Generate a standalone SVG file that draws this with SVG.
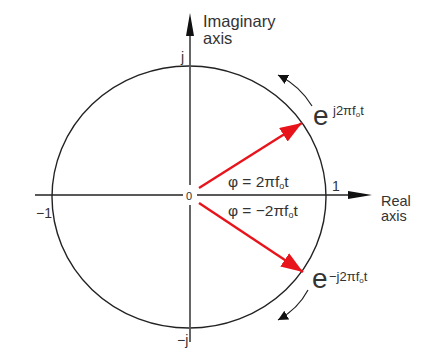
<svg xmlns="http://www.w3.org/2000/svg" width="437" height="354" viewBox="0 0 437 354">
<defs>
<style>
.t{font-family:"Liberation Sans",Arial,sans-serif;fill:#333}
.ax{stroke:#222;stroke-width:1.6;fill:none}
.red{stroke:#e8141b;stroke-width:2.4;fill:none}
.arc{stroke:#222;stroke-width:1.2;fill:none}
</style>
<marker id="rh" markerUnits="userSpaceOnUse" markerWidth="24" markerHeight="16" refX="22" refY="8" orient="auto">
<path d="M0,0 L22,8 L0,16 Z" fill="#e8141b"/>
</marker>
<marker id="bh" markerUnits="userSpaceOnUse" markerWidth="12" markerHeight="10" refX="10" refY="5" orient="auto">
<path d="M0,0 L10,5 L0,10 Z" fill="#111"/>
</marker>
</defs>
<rect width="437" height="354" fill="#fff"/>
<g id="circle">
<ellipse cx="189" cy="197" rx="137" ry="131" fill="none" stroke="#222" stroke-width="1.4"/>
</g>
<g id="connectors">
<line class="ax" x1="35" y1="195" x2="183" y2="195"/>
<line class="ax" x1="197" y1="195" x2="350" y2="195"/>
<polygon points="348,191 372,195 348,199" fill="#111"/>
<line x1="190" y1="33" x2="190" y2="185" stroke="#555" stroke-width="1.8"/>
<line x1="190" y1="205" x2="190" y2="342" stroke="#555" stroke-width="1.8"/>
<polygon points="186,36 190,13 194,36" fill="#111"/>
<line class="red" x1="199" y1="188" x2="302" y2="123" marker-end="url(#rh)"/>
<line class="red" x1="199" y1="203" x2="303" y2="272" marker-end="url(#rh)"/>
<path class="arc" d="M312,106 Q300,86 278,75" marker-end="url(#bh)"/>
<path class="arc" d="M308,290 Q298,309 278,320" marker-end="url(#bh)"/>
</g>
<g id="labels">
<text class="t" x="203" y="27" font-size="16.5">Imaginary</text>
<text class="t" x="203" y="44" font-size="16.5">axis</text>
<text class="t" x="381" y="206" font-size="14.5">Real</text>
<text class="t" x="381" y="221" font-size="14.5">axis</text>
<text class="t" x="181" y="62" font-size="14">j</text>
<text class="t" x="177" y="345" font-size="14">−j</text>
<text class="t" x="36" y="218" font-size="14">−1</text>
<text class="t" x="332" y="191" font-size="14">1</text>
<text class="t" x="186" y="200" font-size="11">0</text>
<text class="t" x="228" y="187" font-size="15.5">φ = 2πf<tspan font-size="9" dy="2">o</tspan><tspan dy="-2">t</tspan></text>
<text class="t" x="228" y="216" font-size="15.5">φ = −2πf<tspan font-size="9" dy="2">o</tspan><tspan dy="-2">t</tspan></text>
<text class="t" x="313" y="125" font-size="28">e</text>
<text class="t" x="333" y="115" font-size="13">j2πf<tspan font-size="8" dy="2">o</tspan><tspan dy="-2">t</tspan></text>
<text class="t" x="312" y="288" font-size="28">e</text>
<text class="t" x="329" y="281" font-size="13">−j2πf<tspan font-size="8" dy="2">o</tspan><tspan dy="-2">t</tspan></text>
</g>
</svg>
